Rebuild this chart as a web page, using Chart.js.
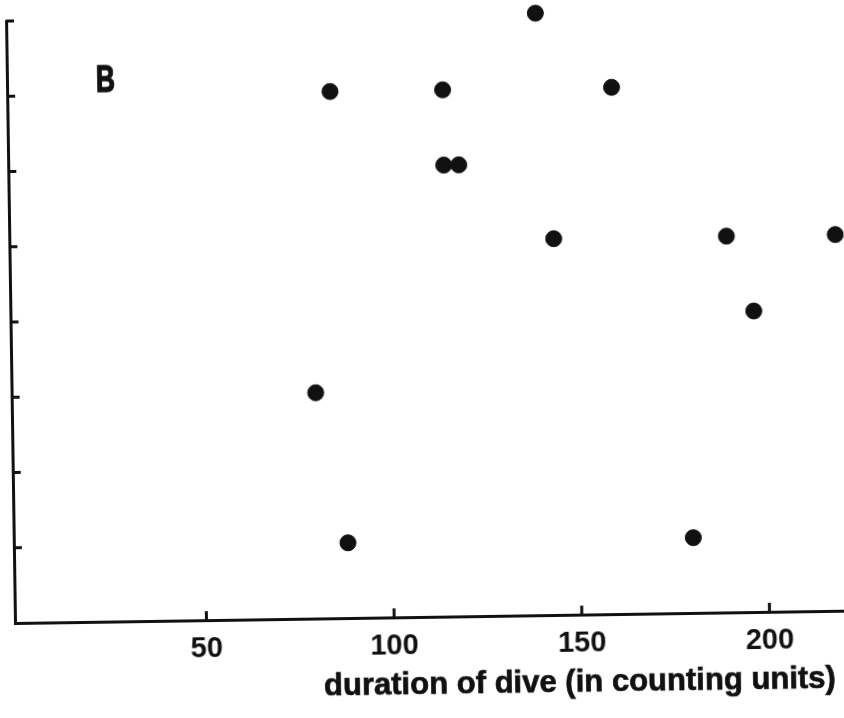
<!DOCTYPE html>
<html>
<head>
<meta charset="utf-8">
<script src="https://cdn.jsdelivr.net/npm/chart.js@4"></script>
<style>
  html, body { margin: 0; padding: 0; background: #fff; overflow: hidden; }
  body { width: 844px; height: 718px; position: relative; }
  /* the scan is tilted a little, so the whole plot is turned about the axis corner */
  #wrap {
    position: absolute; left: 0; top: 0; width: 910px; height: 718px;
    transform-origin: 15px 623px; transform: rotate(-0.85deg);
  }
  #wrap canvas { position: absolute; left: 0; top: 0; }
  .lbl {
    position: absolute; font-family: 'Liberation Sans', Arial, sans-serif;
    font-weight: bold; color: #111; white-space: nowrap; transform-origin: 0 0;
    -webkit-text-stroke: 0.7px #111;
  }
  #xtitle { left: 323px; top: 673px; font-size: 32px; line-height: 32px; }
  #panel { left: 104px; top: 63px; font-size: 36px; line-height: 36px; -webkit-text-stroke: 1.4px #111; }
</style>
</head>
<body>
<div id="wrap">
  <canvas id="myChart" width="910" height="718"></canvas>
  <div class="lbl" id="panel">B</div>
  <div class="lbl" id="xtitle">duration of dive (in counting units)</div>
</div>
<script>
// data
const duration = [140, 85, 115, 160, 115, 119, 144, 190, 219, 197, 80, 88, 180];
const level    = [8,   7,  7,   7,   6,   6,   5,   5,   5,   4,   3,  1,  1];
const xTicks = [50, 100, 150, 200];
const yTicks = [0, 1, 2, 3, 4, 5, 6, 7, 8];

const ink = '#111';

// squeeze the condensed lettering
const squeeze = (id, w) => {
    const el = document.getElementById(id);
    el.style.transform = 'scaleX(' + (w / el.offsetWidth) + ')';
};
squeeze('xtitle', 512);
squeeze('panel', 19);

// ticks in the scan point inward
const innerTicks = {
    id: 'innerTicks',
    afterDraw(chart) {
        const c = chart.ctx;
        const x = chart.scales.x, y = chart.scales.y;
        c.save();
        c.strokeStyle = ink;
        c.lineWidth = 3;
        c.beginPath();
        xTicks.forEach(v => {
            const px = x.getPixelForValue(v);
            c.moveTo(px, y.bottom);
            c.lineTo(px, y.bottom - 9);
        });
        yTicks.slice(1).forEach(v => {
            const py = y.getPixelForValue(v);
            c.moveTo(x.left, py);
            c.lineTo(x.left + 8, py);
        });
        c.stroke();
        c.restore();
    }
};

const ctx = document.getElementById('myChart').getContext('2d');
const myChart = new Chart(ctx, {
    type: 'scatter',
    data: {
        datasets: [{
            data: duration.map((d, i) => ({ x: d, y: level[i] })),
            backgroundColor: ink,
            borderColor: ink,
            pointRadius: 8,
            pointHoverRadius: 8,
            clip: false,
        }]
    },
    options: {
        responsive: false,
        animation: false,
        layout: { padding: { top: 21, right: 8, bottom: 0, left: 0 } },
        plugins: {
            legend: { display: false },
            tooltip: { enabled: false },
        },
        scales: {
            x: {
                type: 'linear',
                min: -1,
                max: 235,
                afterBuildTicks: s => { s.ticks = xTicks.map(v => ({ value: v })); },
                afterFit: s => { s.height = 95; },
                grid: { display: false, drawTicks: false },
                border: { display: true, color: ink, width: 3 },
                ticks: {
                    color: ink,
                    padding: 12,
                    maxRotation: 0,
                    font: { family: "'Liberation Sans', Arial, sans-serif", size: 29, weight: 'bold' },
                },
            },
            y: {
                min: 0,
                max: 8,
                afterBuildTicks: s => { s.ticks = yTicks.map(v => ({ value: v })); },
                afterFit: s => { s.width = 15; },
                grid: { display: false, drawTicks: false },
                border: { display: true, color: ink, width: 3 },
                ticks: { display: false },
            }
        }
    },
    plugins: [innerTicks]
});
</script>
</body>
</html>
